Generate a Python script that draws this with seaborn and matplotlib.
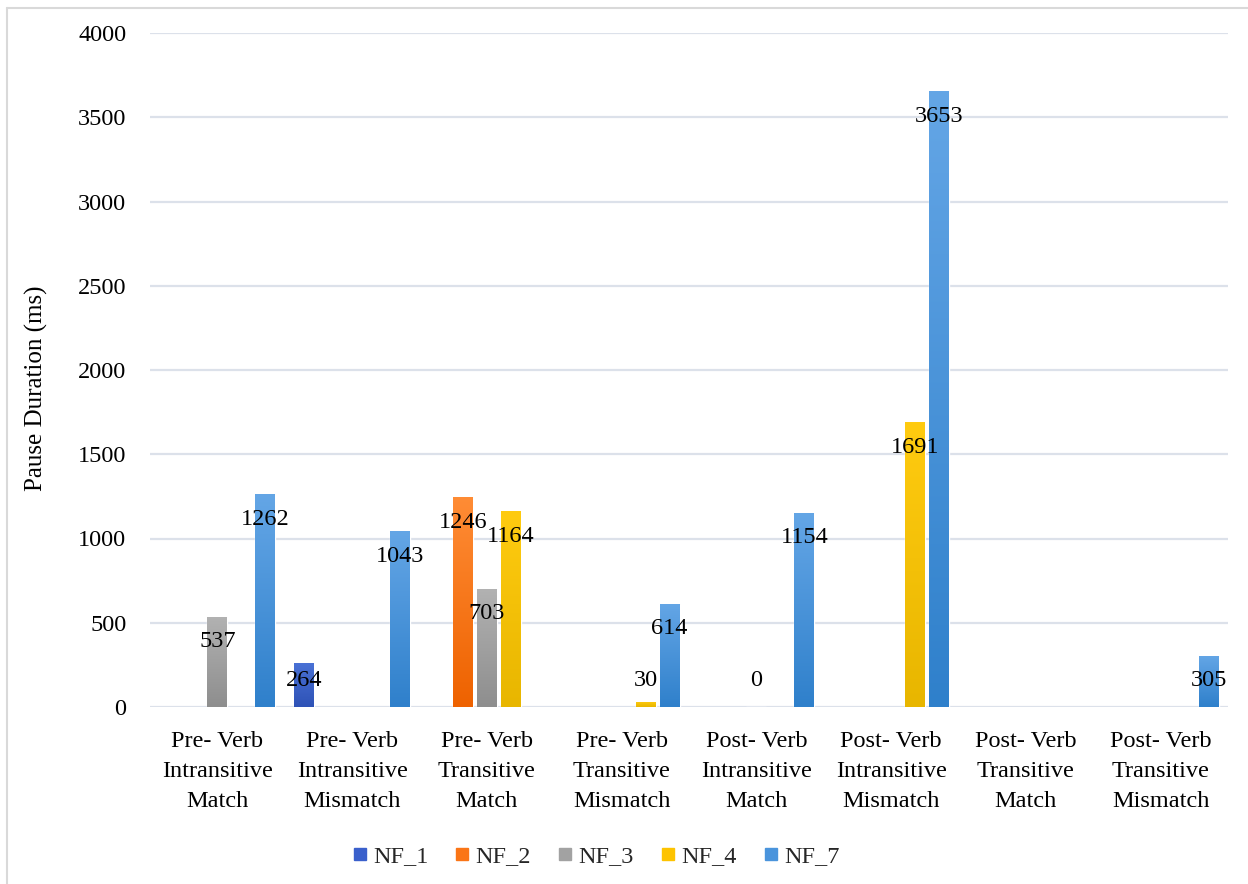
import numpy as np
import pandas as pd
import seaborn as sns
import matplotlib
matplotlib.use("Agg")
import matplotlib.pyplot as plt
from matplotlib.colors import LinearSegmentedColormap
from matplotlib.lines import Line2D

# ---- data -------------------------------------------------------------
categories = [
    "Pre- Verb\nIntransitive\nMatch",
    "Pre- Verb\nIntransitive\nMismatch",
    "Pre- Verb\nTransitive\nMatch",
    "Pre- Verb\nTransitive\nMismatch",
    "Post- Verb\nIntransitive\nMatch",
    "Post- Verb\nIntransitive\nMismatch",
    "Post- Verb\nTransitive\nMatch",
    "Post- Verb\nTransitive\nMismatch",
]
series = ["NF_1", "NF_2", "NF_3", "NF_4", "NF_7"]

nf_1 = [None, 264, None, None, None, None, None, None]
nf_2 = [None, None, 1246, None, None, None, None, None]
nf_3 = [537, None, 703, None, 0, None, None, None]
nf_4 = [None, None, 1164, 30, None, 1691, None, None]
nf_7 = [1262, 1043, None, 614, 1154, 3653, None, 305]

y_ticks = [0, 500, 1000, 1500, 2000, 2500, 3000, 3500, 4000]
y_label = "Pause Duration (ms)"

# ---- styling ----------------------------------------------------------
base_colors = ["#3A60CC", "#FA7516", "#A2A2A2", "#FDC300", "#4A94DC"]
top_colors = ["#4A72D6", "#FF8C35", "#B2B2B2", "#FFCB10", "#64A6E6"]
bottom_colors = ["#2E52B6", "#EE6200", "#8E8E8E", "#E8B600", "#2F80CB"]
grid_color = "#DCE1EA"
text_color = "#000000"
fs = 17.5

sns.set_theme(style="white")
plt.rcParams["font.family"] = ["Liberation Serif", "DejaVu Serif"]

rows = []
for name, vals in zip(series, [nf_1, nf_2, nf_3, nf_4, nf_7]):
    for cat, v in zip(categories, vals):
        if v is not None:
            rows.append({"Condition": cat, "Speaker": name, "Pause": v})
df = pd.DataFrame(rows)

W, H = 1248, 884
fig = plt.figure(figsize=(W / 100, H / 100), dpi=100)
fig.patch.set_facecolor("white")
ax = fig.add_axes([150 / W, (H - 707) / H, 1078 / W, 674 / H])

group_width = 0.89
sns.barplot(
    data=df, x="Condition", y="Pause", hue="Speaker",
    order=categories, hue_order=series,
    palette=dict(zip(series, base_colors)), saturation=1,
    width=group_width, gap=0.17, errorbar=None, legend=False, ax=ax,
)

ax.set_xlim(-0.5, len(categories) - 0.5)
ax.set_ylim(0, 4000)
ax.set_yticks(y_ticks)
ax.set_yticklabels([str(t) for t in y_ticks], fontsize=fs, color=text_color)
ax.set_xticks(range(len(categories)))
ax.set_xticklabels(categories, fontsize=fs, color=text_color, linespacing=1.56)
ax.tick_params(axis="both", length=0)
ax.tick_params(axis="y", pad=17)
ax.tick_params(axis="x", pad=17)
ax.set_xlabel("")
ax.set_ylabel("")
for s in ax.spines.values():
    s.set_visible(False)
ax.yaxis.grid(True, color=grid_color, linewidth=1.6)
ax.set_axisbelow(True)

fig.text(36 / W, 1 - 388 / H, y_label, rotation=90, ha="center", va="center",
         fontsize=18, color=text_color)

# gradient fill and value labels for each bar
slot = group_width / len(series)
grad = np.linspace(0, 1, 256).reshape(-1, 1)
for bar in list(ax.patches):
    x0 = bar.get_x()
    w = bar.get_width()
    h = bar.get_height()
    if np.isnan(h):
        continue
    xc = x0 + w / 2
    cat_idx = int(round(xc))
    s_idx = int(round((xc - cat_idx) / slot + (len(series) - 1) / 2))
    if h > 0:
        cmap = LinearSegmentedColormap.from_list(
            "g", [bottom_colors[s_idx], top_colors[s_idx]])
        im = ax.imshow(grad, extent=(x0, x0 + w, 0, h), origin="lower",
                       cmap=cmap, aspect="auto", zorder=bar.get_zorder() + 0.1,
                       interpolation="bilinear")
        im.set_clip_path(bar)
    ax.text(xc, max(h - 150, 155), f"{h:.0f}", ha="center", va="center",
            fontsize=fs, color=text_color, zorder=5)

ax.set_xlim(-0.5, len(categories) - 0.5)
ax.set_ylim(0, 4000)

# legend
handles = [Line2D([0], [0], marker="s", linestyle="none", markersize=8.5,
                  markerfacecolor=c, markeredgecolor=c) for c in base_colors]
fig.legend(handles, series, loc="center", ncol=len(series),
           bbox_to_anchor=(596 / W, 1 - 856 / H), frameon=False,
           fontsize=fs, handlelength=0.6, handletextpad=0.25,
           columnspacing=1.1, borderaxespad=0)

# chart-area border
fig.add_artist(Line2D([7 / W, 1.0], [1 - 8 / H, 1 - 8 / H],
                      color="#D9D9D9", linewidth=1.5))
fig.add_artist(Line2D([7 / W, 7 / W], [0.0, 1 - 8 / H],
                      color="#D9D9D9", linewidth=1.5))

fig.savefig("out.png", dpi=100, facecolor="white")
